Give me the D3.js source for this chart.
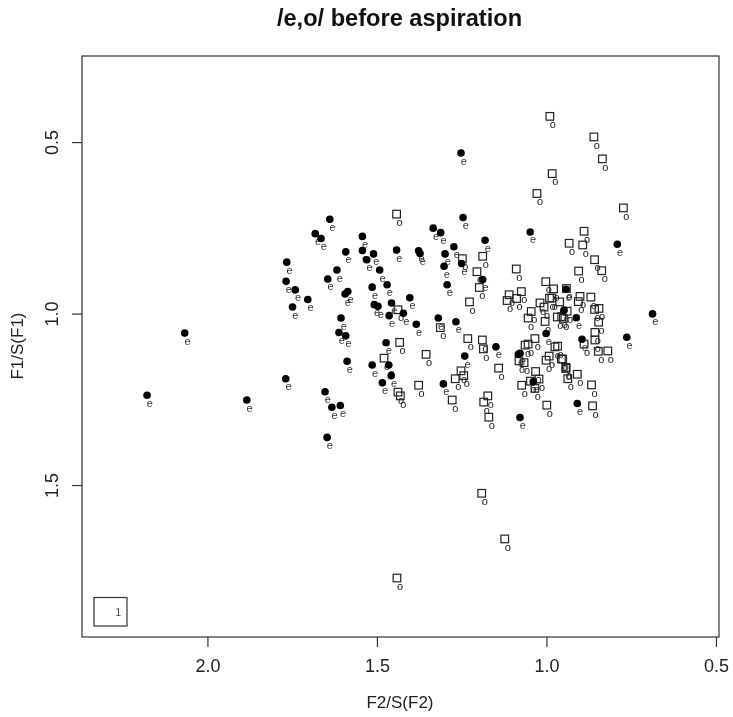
<!DOCTYPE html>
<html>
<head>
<meta charset="utf-8">
<script src="https://cdn.jsdelivr.net/npm/d3@7"></script>
<style>
  html, body { margin: 0; background: #fff; }
  /* the reference is a slightly soft scan, this also keeps the small text grey */
  svg { display: block; filter: blur(.35px); }
  text { font-family: "Liberation Sans", Arial, sans-serif; fill: #222; }
</style>
</head>
<body>
<script>
// /e/ tokens, normalised F2 and F1
var eF2 = [2.067,2.178,1.884,1.769,1.766,1.768,1.741,1.704,1.749,1.682,1.639,1.665,1.543,1.592,1.543,1.510,1.530,1.442,1.377,1.373,1.334,1.312,1.246,1.273,1.299,1.250,1.302,1.293,1.492,1.618,1.645,1.470,1.514,1.586,1.594,1.403,1.457,1.508,1.497,1.422,1.464,1.384,1.319,1.267,1.606,1.612,1.592,1.473,1.241,1.588,1.514,1.465,1.458,1.304,1.484,1.653,1.608,1.633,1.647,1.181,1.048,1.188,.942,.948,.912,1.149,1.001,.895,.763,1.078,1.083,1.039,.909,1.078,.791,.687,1.252]
var eF1 = [1.057,1.238,1.252,1.190,.850,.906,.931,.959,.981,.767,.725,.781,.775,.820,.816,.826,.843,.815,.817,.825,.751,.764,.720,.805,.826,.854,.862,.916,.873,.873,.899,.916,.923,.936,.943,.954,.969,.974,.979,.999,1.006,1.031,1.013,1.024,1.013,1.055,1.065,1.085,1.124,1.139,1.150,1.150,1.181,1.205,1.202,1.228,1.268,1.273,1.361,.786,.762,.901,.929,.990,1.012,1.097,1.058,1.075,1.069,1.116,1.119,1.199,1.262,1.303,.798,1.001,.532]

// /o/ tokens
var oF2 = [.990,.860,.835,.983,1.028,.773,1.442,1.248,1.205,1.198,1.227,1.438,1.313,1.232,1.433,1.355,1.479,1.252,1.244,1.269,1.377,1.438,1.431,1.278,.889,.933,.893,.858,.837,.905,1.188,1.089,1.002,.979,1.110,1.116,1.074,1.088,1.019,1.007,.991,.984,.961,.941,.901,.906,.869,.858,.845,1.045,1.054,1.004,.968,.955,.939,.950,.846,.857,.857,.889,.847,.819,1.189,1.186,1.034,1.054,1.063,.975,.967,.992,1.001,.956,1.081,1.066,1.141,.943,1.032,.909,.937,.867,1.073,1.047,1.022,1.034,1.173,1.185,.999,.864,1.170,1.191,1.123,1.441,.952,.942]
var oF1 = [.425,.485,.549,.592,.650,.692,.710,.840,.878,.924,.966,.989,1.041,1.073,1.084,1.119,1.130,1.167,1.181,1.190,1.209,1.229,1.240,1.252,.760,.795,.800,.843,.875,.876,.833,.870,.907,.928,.945,.962,.936,.956,.969,.981,.955,.955,.966,.927,.950,.965,.952,.988,.985,.994,1.013,1.023,1.010,1.009,.993,1.014,1.025,1.055,1.077,1.089,1.110,1.109,1.077,1.103,1.073,1.089,1.092,1.097,1.095,1.124,1.136,1.132,1.138,1.143,1.159,1.160,1.169,1.177,1.190,1.208,1.209,1.197,1.191,1.218,1.240,1.258,1.267,1.269,1.302,1.524,1.657,1.771,1.133,1.157]

var xTicks = [2.0, 1.5, 1.0, 0.5]
var yTicks = [0.5, 1.0, 1.5]

var svg = d3.select('body').append('svg').attr('width', 733).attr('height', 717)

var frame = {left: 82, right: 719, top: 56, bottom: 637}
var x = d3.scaleLinear().domain([2.37, .491]).range([frame.left, frame.right])
var y = d3.scaleLinear().domain([.249, 1.943]).range([frame.top, frame.bottom])

var lineColor = '#333'

var eTokens = eF2.map((d, i) => ({f2: d, f1: eF1[i]}))
var oTokens = oF2.map((d, i) => ({f2: d, f1: oF1[i]}))

// o's go under the e's, as in the original
var o = svg.append('g').selectAll('g').data(oTokens).join('g')
  .attr('transform', d => `translate(${x(d.f2)},${y(d.f1)})`)
o.append('rect')
  .attr('x', -3.8).attr('y', -3.8).attr('width', 7.6).attr('height', 7.6)
  .attr('fill', 'none').attr('stroke', '#222').attr('stroke-width', 1.2)
o.append('text').text('o')
  .attr('x', 3).attr('y', 11.7).attr('text-anchor', 'middle')
  .style('font-size', '11px').style('fill', '#222')

var e = svg.append('g').selectAll('g').data(eTokens).join('g')
  .attr('transform', d => `translate(${x(d.f2)},${y(d.f1)})`)
e.append('circle').attr('r', 3.8).attr('fill', '#000')
e.append('text').text('e')
  .attr('x', 2.8).attr('y', 11.5).attr('text-anchor', 'middle')
  .style('font-size', '11px').style('fill', '#333')

svg.append('rect')
  .attr('x', frame.left).attr('y', frame.top)
  .attr('width', frame.right - frame.left).attr('height', frame.bottom - frame.top)
  .attr('fill', 'none').attr('stroke', lineColor).attr('stroke-width', 1.2)

var xAxis = svg.append('g').attr('transform', `translate(0,${frame.bottom})`)
  .call(d3.axisBottom(x).tickValues(xTicks).tickFormat(d3.format('.1f')).tickSize(10).tickSizeOuter(0).tickPadding(12))
var yAxis = svg.append('g').attr('transform', `translate(${frame.left},0)`)
  .call(d3.axisLeft(y).tickValues(yTicks).tickFormat(d3.format('.1f')).tickSize(10).tickSizeOuter(0).tickPadding(11))
xAxis.select('.domain').remove()
yAxis.select('.domain').remove()

xAxis.selectAll('line').attr('stroke', lineColor).attr('stroke-width', 1.2)
yAxis.selectAll('line').attr('stroke', lineColor).attr('stroke-width', 1.2)
xAxis.selectAll('text').style('font-size', '18px')
yAxis.selectAll('text')
  .style('font-size', '18px')
  .attr('text-anchor', 'middle').attr('dy', 0).attr('x', 0).attr('y', 0)
  .attr('transform', 'translate(-24,0) rotate(-90)')

svg.append('text').text('/e,o/ before aspiration')
  .attr('x', 399.5).attr('y', 26).attr('text-anchor', 'middle')
  .style('font-size', '23.6px').style('font-weight', 'bold').style('fill', '#111')
svg.append('text').text('F2/S(F2)')
  .attr('x', 400).attr('y', 708).attr('text-anchor', 'middle')
  .style('font-size', '17px')
svg.append('text').text('F1/S(F1)')
  .attr('transform', 'translate(23,346) rotate(-90)').attr('text-anchor', 'middle')
  .style('font-size', '17px')

// small key box, bottom left
svg.append('rect')
  .attr('x', 94).attr('y', 597.5).attr('width', 33).attr('height', 28.5)
  .attr('fill', 'none').attr('stroke', lineColor).attr('stroke-width', 1.2)
svg.append('text').text('1')
  .attr('x', 118.3).attr('y', 615.7).attr('text-anchor', 'middle')
  .style('font-size', '10px').style('fill', '#444')
</script>
</body>
</html>
